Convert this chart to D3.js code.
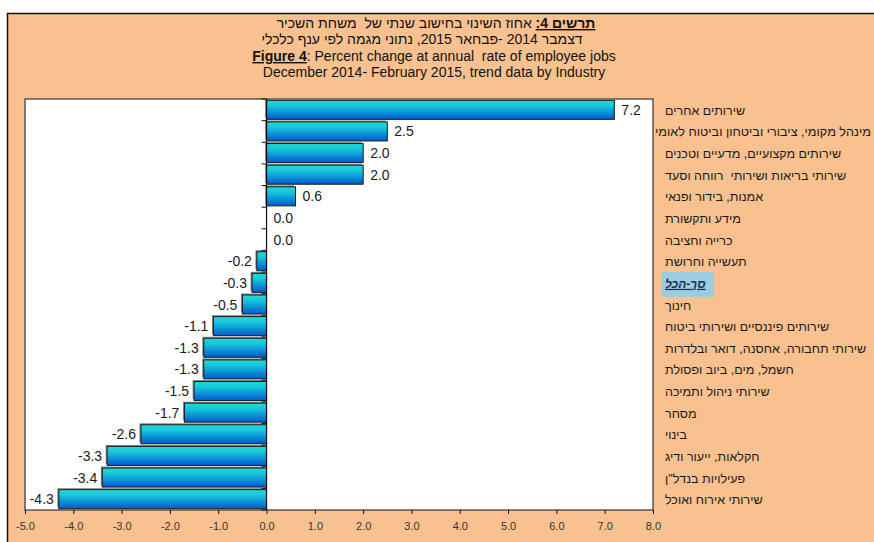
<!DOCTYPE html>
<html>
<head>
<meta charset="utf-8">
<script src="https://cdn.jsdelivr.net/npm/d3@7"></script>
<style>
  body { margin: 0; background: #fff; }
  svg { display: block; font-family: Arial, "Liberation Sans", sans-serif; }
  text { white-space: pre; }
</style>
</head>
<body>
<div id="chart"></div>
<script>
// industries, top to bottom
const industries = [
  'שירותים אחרים',
  'מינהל מקומי, ציבורי וביטחון וביטוח לאומי',
  'שירותים מקצועיים, מדעיים וטכנים',
  'שירותי בריאות ושירותי  רווחה וסעד',
  'אמנות, בידור ופנאי',
  'מידע ותקשורת',
  'כרייה וחציבה',
  'תעשייה וחרושת',
  'סך-הכל',
  'חינוך',
  'שירותים פיננסיים ושירותי ביטוח',
  'שירותי תחבורה, אחסנה, דואר ובלדרות',
  'חשמל, מים, ביוב ופסולת',
  'שירותי ניהול ותמיכה',
  'מסחר',
  'בינוי',
  'חקלאות, ייעור ודיג',
  'פעילויות בנדל"ן',
  'שירותי אירוח ואוכל'
]
const changes = [7.2, 2.5, 2.0, 2.0, 0.6, 0.0, 0.0, -0.2, -0.3, -0.5, -1.1, -1.3, -1.3, -1.5, -1.7, -2.6, -3.3, -3.4, -4.3]
const TOTAL_LABEL = 'סך-הכל'
const x_ticks = [-5, -4, -3, -2, -1, 0, 1, 2, 3, 4, 5, 6, 7, 8]

const width = 874
const height = 542
const plot = { left: 25, right: 653, top: 99, bottom: 510 }

// excel style numbers, plain hyphen for minus
const fmt = v => d3.format('.1f')(v).replace('\u2212', '-')

const svg = d3.select('#chart').append('svg')
  .attr('width', width)
  .attr('height', height)

const defs = svg.append('defs')
const grad = defs.append('linearGradient')
  .attr('id', 'barGrad')
  .attr('x1', 0).attr('y1', 0).attr('x2', 0).attr('y2', 1)
grad.append('stop').attr('offset', '0%').attr('stop-color', '#1fdcd0')
grad.append('stop').attr('offset', '30%').attr('stop-color', '#16c6dc')
grad.append('stop').attr('offset', '100%').attr('stop-color', '#0258cf')

// orange panel
svg.append('rect')
  .attr('x', 7.5).attr('y', 13.5)
  .attr('width', width - 7).attr('height', height - 13)
  .attr('fill', '#f9c190')
svg.append('path')
  .attr('d', `M7.5,${height} V13.5 H${width}`)
  .attr('fill', 'none')
  .attr('stroke', '#111')
  .attr('stroke-width', 1.5)

// titles
const title = svg.append('g').attr('fill', '#111').attr('font-size', 14)
const t1 = title.append('text')
  .attr('x', 436).attr('y', 28)
  .attr('text-anchor', 'middle')
  .attr('direction', 'rtl')
t1.append('tspan').attr('font-weight', 'bold').attr('text-decoration', 'underline').text('תרשים 4:')
t1.append('tspan').text(' אחוז השינוי בחישוב שנתי של  משחת השכיר')
title.append('text')
  .attr('x', 422).attr('y', 44)
  .attr('text-anchor', 'middle')
  .attr('direction', 'rtl')
  .text('דצמבר 2014 -פבחאר 2015, נתוני מגמה לפי ענף כלכלי')
const t3 = title.append('text')
  .attr('x', 434).attr('y', 61)
  .attr('text-anchor', 'middle')
t3.append('tspan').attr('font-weight', 'bold').attr('text-decoration', 'underline').text('Figure 4')
t3.append('tspan').text(': Percent change at annual  rate of employee jobs')
title.append('text')
  .attr('x', 434).attr('y', 77)
  .attr('text-anchor', 'middle')
  .text('December 2014- February 2015, trend data by Industry')

// scales
const x = d3.scaleLinear().domain([-5, 8]).range([plot.left, plot.right])
const y = d3.scaleBand().domain(industries).range([plot.top, plot.bottom])
  .paddingInner(0.12).paddingOuter(0.06)

// plot area
svg.append('rect')
  .attr('x', plot.left).attr('y', plot.top)
  .attr('width', plot.right - plot.left).attr('height', plot.bottom - plot.top)
  .attr('fill', '#fff')
  .attr('stroke', '#333')
  .attr('stroke-width', 1.2)

// bars
const bars = svg.append('g')
const rows = industries.map((d, i) => ({ name: d, value: changes[i] }))
bars.selectAll('rect.shadow')
  .data(rows.filter(d => d.value !== 0))
  .join('rect')
  .attr('class', 'shadow')
  .attr('x', d => Math.min(x(0), x(d.value)) - 1.5)
  .attr('y', d => y(d.name) - 1.5)
  .attr('width', d => Math.abs(x(d.value) - x(0)))
  .attr('height', y.bandwidth())
  .attr('fill', '#8a8a8a')
bars.selectAll('rect.bar')
  .data(rows.filter(d => d.value !== 0))
  .join('rect')
  .attr('class', 'bar')
  .attr('x', d => Math.min(x(0), x(d.value)))
  .attr('y', d => y(d.name))
  .attr('width', d => Math.abs(x(d.value) - x(0)))
  .attr('height', y.bandwidth())
  .attr('fill', 'url(#barGrad)')
  .attr('stroke', '#1a1a1a')
  .attr('stroke-width', 1)

// value labels
svg.append('g')
  .attr('font-size', 14)
  .attr('fill', '#1a1a1a')
  .selectAll('text')
  .data(rows)
  .join('text')
  .attr('x', d => d.value >= 0 ? x(d.value) + 7 : x(d.value) - 5)
  .attr('y', d => y(d.name) + y.bandwidth() / 2 + 5)
  .attr('text-anchor', d => d.value >= 0 ? 'start' : 'end')
  .text(d => fmt(d.value))

// vertical zero axis with ticks at band boundaries
const zero = svg.append('g').attr('stroke', '#111')
zero.append('line')
  .attr('x1', x(0)).attr('x2', x(0))
  .attr('y1', plot.top).attr('y2', plot.bottom)
  .attr('stroke-width', 1.2)
zero.selectAll('line.tick')
  .data(d3.range(industries.length + 1))
  .join('line')
  .attr('class', 'tick')
  .attr('x1', x(0) - 5).attr('x2', x(0))
  .attr('y1', i => plot.top + i * y.step())
  .attr('y2', i => plot.top + i * y.step())

// bottom axis
const xAxis = svg.append('g')
  .attr('transform', `translate(0,${plot.bottom})`)
  .call(d3.axisBottom(x).tickValues(x_ticks).tickFormat(fmt).tickSize(4).tickPadding(8))
xAxis.select('.domain').remove()
xAxis.selectAll('line').attr('stroke', '#111')
xAxis.selectAll('text')
  .attr('font-size', 11)
  .attr('fill', '#333')
  .attr('font-family', 'Arial, "Liberation Sans", sans-serif')

// category labels on the right
const LABEL_X = 665
const totalBox = svg.append('rect')
  .attr('fill', '#9bcde0')
const labels = svg.append('g')
  .attr('font-size', 12.5)
  .attr('fill', '#1a1a1a')
  .selectAll('text')
  .data(industries)
  .join('text')
  .attr('x', LABEL_X)
  .attr('y', d => y(d) + y.bandwidth() / 2 + 5)
  .attr('direction', 'rtl')
  .attr('text-anchor', 'end')
  .text(d => d)
labels.filter(d => d === TOTAL_LABEL)
  .attr('font-weight', 'bold')
  .attr('font-style', 'italic')
  .attr('text-decoration', 'underline')
  .attr('fill', '#1f2a55')
  .attr('font-size', 12)
  .each(function () {
    const len = this.getComputedTextLength()
    const yy = +d3.select(this).attr('y')
    totalBox.attr('x', LABEL_X - 4).attr('y', yy - 16)
      .attr('width', len + 12).attr('height', 25)
  })
// squeeze the longest label so it stays inside the window
labels.each(function () {
  const len = this.getComputedTextLength()
  if (LABEL_X + len > width - 1) {
    d3.select(this)
      .attr('x', 655)
      .attr('textLength', width - 3 - 655)
      .attr('lengthAdjust', 'spacingAndGlyphs')
  }
})
</script>
</body>
</html>
